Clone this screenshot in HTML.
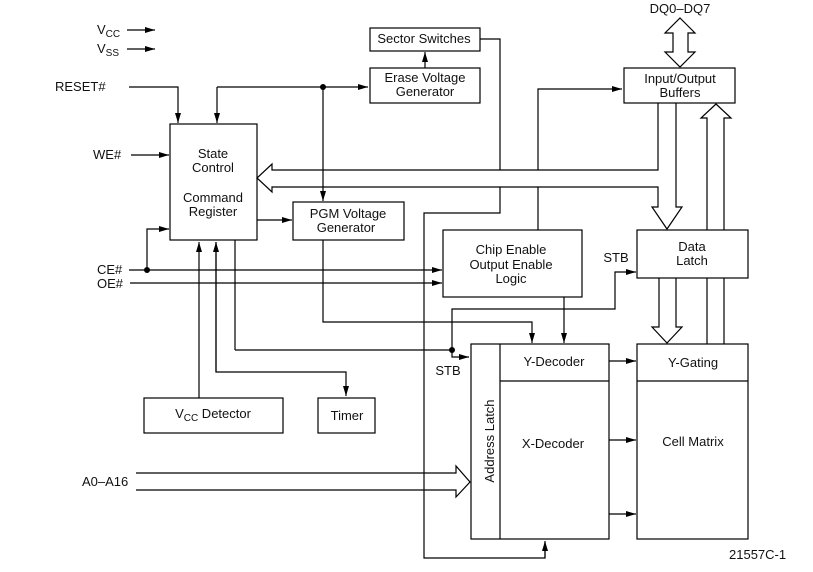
<!DOCTYPE html>
<html><head><meta charset="utf-8"><style>
html,body{margin:0;padding:0;background:#fff;}
svg{display:block;}
text{font-family:"Liberation Sans",Arial,sans-serif;font-size:13px;fill:#111;}
</style></head><body>
<svg width="813" height="572" viewBox="0 0 813 572" xmlns="http://www.w3.org/2000/svg">
<defs>
<marker id="a" viewBox="0 0 10 6" refX="10" refY="3" markerWidth="10" markerHeight="6" markerUnits="userSpaceOnUse" orient="auto"><path d="M0,0L10,3L0,6z" fill="#000"/></marker>
</defs>
<g stroke="#000" stroke-width="1.2" fill="none">
<rect x="170" y="124" width="87" height="116"/>
<rect x="370" y="28" width="110" height="23"/>
<rect x="370" y="68" width="110" height="35"/>
<rect x="293" y="202" width="111" height="38"/>
<rect x="624" y="68" width="111" height="35"/>
<rect x="443" y="230" width="139" height="67"/>
<rect x="637" y="230" width="111" height="48"/>
<rect x="471" y="344" width="138" height="195"/>
<line x1="500" y1="344" x2="500" y2="539"/>
<line x1="500" y1="381" x2="609" y2="381"/>
<rect x="637" y="344" width="111" height="195"/>
<line x1="637" y1="381" x2="748" y2="381"/>
<rect x="144" y="398" width="139" height="35"/>
<rect x="318" y="398" width="57" height="35"/>

<line x1="127" y1="30" x2="155" y2="30" marker-end="url(#a)"/>
<line x1="127" y1="49" x2="155" y2="49" marker-end="url(#a)"/>
<polyline points="129,87 178,87 178,123" marker-end="url(#a)"/>
<polyline points="217,87 368,87" marker-end="url(#a)"/>
<line x1="217" y1="87" x2="217" y2="123" marker-end="url(#a)"/>
<line x1="323" y1="87" x2="323" y2="201" marker-end="url(#a)"/>
<line x1="425" y1="68" x2="425" y2="52" marker-end="url(#a)"/>
<line x1="131" y1="155" x2="169" y2="155" marker-end="url(#a)"/>
<line x1="129" y1="270" x2="442" y2="270" marker-end="url(#a)"/>
<line x1="130" y1="283" x2="442" y2="283" marker-end="url(#a)"/>
<polyline points="147,270 147,229 169,229" marker-end="url(#a)"/>
<line x1="257" y1="220" x2="292" y2="220" marker-end="url(#a)"/>
<polyline points="658,103 658,170 272,170 272,164 257,178 272,192 272,187 658,187 658,207 652,207 667,229 682,207 676,207 676,103" stroke-linejoin="miter"/>
<polyline points="480,39 500,39 500,170"/>
<polyline points="500,187 500,213 424,213 424,558 545,558 545,542" />
<line x1="545" y1="558" x2="545" y2="541" marker-end="url(#a)"/>
<line x1="538" y1="187" x2="538" y2="230"/>
<polyline points="538,170 538,89 622,89" marker-end="url(#a)"/>
<polyline points="707,230 707,118 701,118 716,104 731,118 724,118 724,230"/>
<line x1="707" y1="278" x2="707" y2="344"/>
<line x1="724" y1="278" x2="724" y2="344"/>
<polyline points="659,278 659,327 652,327 667,343 682,327 676,327 676,278"/>
<polygon points="680,18 695,33 688,33 688,52 695,52 680,67 665,52 673,52 673,33 665,33"/>
<line x1="564" y1="297" x2="564" y2="343" marker-end="url(#a)"/>
<polyline points="323,240 323,322 532,322 532,343" marker-end="url(#a)"/>
<polyline points="452,350 452,309 615,309 615,272 636,272" marker-end="url(#a)"/>
<polyline points="452,350 452,357 469,357" marker-end="url(#a)"/>
<line x1="235" y1="240" x2="235" y2="350"/>
<line x1="235" y1="350" x2="452" y2="350"/>
<line x1="199" y1="398" x2="199" y2="242" marker-end="url(#a)"/>
<polyline points="216,242 216,372 346,372 346,396" marker-end="url(#a)"/>
<line x1="216" y1="372" x2="216" y2="242" marker-end="url(#a)"/>
<polyline points="136,473 456,473 456,466 470,482 456,497 456,490 136,490"/>
<line x1="609" y1="361" x2="636" y2="361" marker-end="url(#a)"/>
<line x1="609" y1="440" x2="636" y2="440" marker-end="url(#a)"/>
<line x1="609" y1="514" x2="636" y2="514" marker-end="url(#a)"/>
</g>
<g fill="#000">
<circle cx="323" cy="87" r="3"/>
<circle cx="147" cy="270" r="3"/>
<circle cx="452" cy="350" r="3"/>
</g>
<text x="97" y="34">V<tspan font-size="10" dy="3">CC</tspan></text>
<text x="97" y="53">V<tspan font-size="10" dy="3">SS</tspan></text>
<text x="55" y="91">RESET#</text>
<text x="93" y="159">WE#</text>
<text x="97" y="274">CE#</text>
<text x="97" y="288">OE#</text>
<text x="82" y="486">A0–A16</text>
<text x="213" y="158" text-anchor="middle">State</text>
<text x="213" y="172" text-anchor="middle">Control</text>
<text x="213" y="202" text-anchor="middle">Command</text>
<text x="213" y="216" text-anchor="middle">Register</text>
<text x="424" y="43" text-anchor="middle">Sector Switches</text>
<text x="425" y="82" text-anchor="middle">Erase Voltage</text>
<text x="425" y="96" text-anchor="middle">Generator</text>
<text x="348" y="218" text-anchor="middle">PGM Voltage</text>
<text x="346" y="232" text-anchor="middle">Generator</text>
<text x="680" y="13" text-anchor="middle">DQ0–DQ7</text>
<text x="680" y="83" text-anchor="middle">Input/Output</text>
<text x="680" y="97" text-anchor="middle">Buffers</text>
<text x="511" y="254" text-anchor="middle">Chip Enable</text>
<text x="511" y="269" text-anchor="middle">Output Enable</text>
<text x="511" y="283" text-anchor="middle">Logic</text>
<text x="692" y="251" text-anchor="middle">Data</text>
<text x="692" y="265" text-anchor="middle">Latch</text>
<text x="616" y="262" text-anchor="middle">STB</text>
<text x="448" y="375" text-anchor="middle">STB</text>
<text x="554" y="366" text-anchor="middle">Y-Decoder</text>
<text x="553" y="448" text-anchor="middle">X-Decoder</text>
<text x="693" y="367" text-anchor="middle">Y-Gating</text>
<text x="693" y="446" text-anchor="middle">Cell Matrix</text>
<text x="490" y="441" text-anchor="middle" transform="rotate(-90 490 441)" dy="4">Address Latch</text>
<text x="213" y="418" text-anchor="middle">V<tspan font-size="10" dy="3">CC</tspan><tspan dy="-3"> Detector</tspan></text>
<text x="347" y="420" text-anchor="middle">Timer</text>
<text x="729" y="559" font-size="12">21557C-1</text>
</svg>
</body></html>
